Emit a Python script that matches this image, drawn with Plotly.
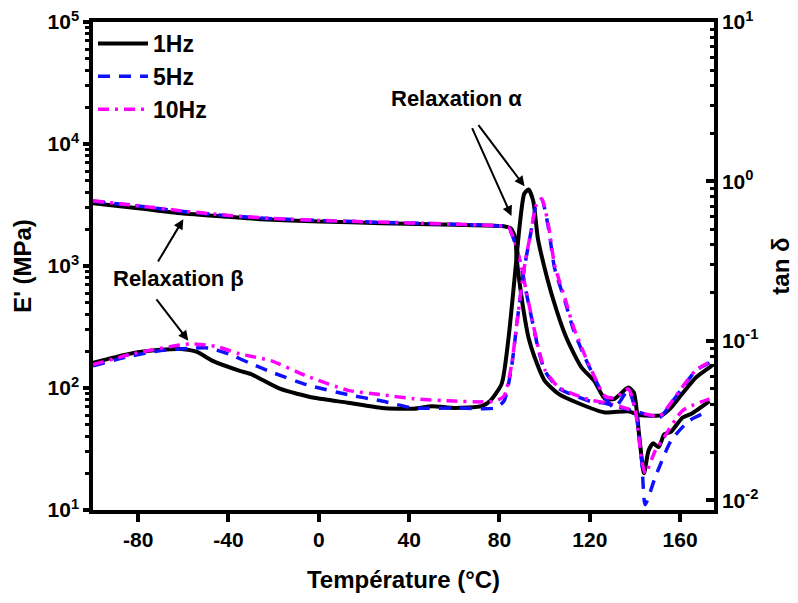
import plotly.graph_objects as go

# storage modulus E' (MPa), left axis
t_e1 = [-100, -80, -61, -40, -26, 0, 28, 60, 81, 85, 87, 87.6, 89, 90.7, 92.9, 95.6, 100, 106, 115, 126.7, 137, 142, 152, 156, 161, 167, 174]
e_1hz = [3270, 2980, 2710, 2530, 2420, 2320, 2245, 2180, 2124, 2040, 1695, 1162, 708, 427, 257, 178, 115, 90, 75, 63, 64.5, 60, 60, 69, 90, 122, 152]

t_e5 = [-100, -80, -60, -40, -20, 0, 40, 80, 84, 86.7, 89.8, 92, 94.2, 97.3, 100, 106, 115, 121, 126.7, 134, 142, 151, 156, 161, 167, 173]
e_5hz = [3400, 3100, 2800, 2580, 2440, 2360, 2250, 2130, 2060, 1580, 955, 588, 377, 204, 139, 100, 84, 77, 75, 69, 63, 57.5, 75, 100, 139, 161]

t_e10 = [-100, -80, -60, -40, -20, 0, 40, 80, 84, 86.7, 89.8, 92, 94.2, 97.3, 100, 106, 115, 121, 126.7, 134, 142, 151, 156, 161, 167, 173]
e_10hz = [3420, 3120, 2820, 2600, 2450, 2365, 2255, 2135, 2070, 1600, 970, 600, 385, 210, 142, 102, 86, 79, 76, 70, 63, 59, 76, 102, 140, 163]

# loss factor tan delta, right axis
t_d1 = [-100, -84, -70, -61, -54, -47, -35, -30, -26, -17, -2, 13, 28, 42, 50, 60, 72, 76, 81, 84, 86.7, 89, 91, 92.9, 95, 97, 100, 104, 109, 113, 116.4, 122, 126.7, 131, 137, 139.5, 141.8, 144, 146, 148, 150.5, 153, 156, 161, 165, 173]
d_1hz = [0.0729, 0.083, 0.088, 0.089, 0.0853, 0.075, 0.065, 0.062, 0.058, 0.050, 0.044, 0.041, 0.038, 0.0376, 0.039, 0.038, 0.039, 0.0422, 0.054, 0.104, 0.248, 0.538, 0.84, 0.89, 0.75, 0.44, 0.286, 0.178, 0.11, 0.083, 0.068, 0.056, 0.0434, 0.0434, 0.051, 0.0475, 0.026, 0.0148, 0.0205, 0.0228, 0.0216, 0.026, 0.027, 0.033, 0.035, 0.042]

t_d5 = [-100, -84, -70, -57, -49, -40, -30, -20, -5, 13, 28, 42, 60, 78, 82, 85.3, 88, 91, 94, 96.4, 98.7, 101.7, 104.4, 109, 113, 118, 122, 126.7, 131, 137, 140, 143, 144.5, 149, 156, 164, 173]
d_5hz = [0.0698, 0.08, 0.087, 0.09, 0.0904, 0.083, 0.072, 0.063, 0.053, 0.046, 0.042, 0.038, 0.038, 0.038, 0.042, 0.068, 0.139, 0.286, 0.487, 0.72, 0.77, 0.51, 0.286, 0.178, 0.115, 0.078, 0.059, 0.044, 0.038, 0.049, 0.038, 0.0178, 0.0094, 0.014, 0.0237, 0.0316, 0.0365]

t_d10 = [-100, -84, -70, -57, -45, -35, -21, -5, 13, 28, 42, 60, 72, 78, 82, 85.3, 88, 91, 94, 96.4, 98.7, 101.7, 104.4, 109, 113, 118, 122, 126.7, 131, 137, 140, 143, 144.6, 149, 153, 161, 173]
d_10hz = [0.071, 0.082, 0.09, 0.0958, 0.092, 0.083, 0.075, 0.06, 0.049, 0.046, 0.0434, 0.042, 0.0415, 0.042, 0.045, 0.07, 0.14, 0.29, 0.49, 0.72, 0.78, 0.53, 0.3, 0.185, 0.12, 0.08, 0.06, 0.045, 0.044, 0.05, 0.038, 0.0178, 0.0148, 0.0205, 0.025, 0.0365, 0.0434]

x_ticks = [-80, -40, 0, 40, 80, 120, 160]
x_text = ['-80', '-40', '0', '40', '80', '120', '160']
left_ticks = [10, 100, 1000, 10000, 100000]
left_text = ['10<sup>1</sup>', '10<sup>2</sup>', '10<sup>3</sup>', '10<sup>4</sup>', '10<sup>5</sup>']
right_ticks = [0.01, 0.1, 1, 10]
right_text = ['10<sup>-2</sup>', '10<sup>-1</sup>', '10<sup>0</sup>', '10<sup>1</sup>']

FONT = 'Liberation Sans, Arial, sans-serif'


def minor_vals(lo, hi):
    vals = []
    for p in range(lo, hi):
        for k in range(2, 10):
            vals.append(k * 10 ** p)
    return vals


styles = {
    '1Hz': dict(color='black', width=4, dash='solid'),
    '5Hz': dict(color='#1010ff', width=3.5, dash='12px,9px'),
    '10Hz': dict(color='#ff00ff', width=3.5, dash='11px,6px,3px,6px'),
}

fig = go.Figure()
for name, tx, ty in [('1Hz', t_e1, e_1hz), ('5Hz', t_e5, e_5hz), ('10Hz', t_e10, e_10hz)]:
    fig.add_scatter(x=tx, y=ty, mode='lines', line=dict(shape='spline', smoothing=0.6, **styles[name]),
                    name=name, legendgroup=name, showlegend=True)
for name, tx, ty in [('1Hz', t_d1, d_1hz), ('5Hz', t_d5, d_5hz), ('10Hz', t_d10, d_10hz)]:
    fig.add_scatter(x=tx, y=ty, mode='lines', line=dict(shape='spline', smoothing=0.6, **styles[name]),
                    name=name, legendgroup=name, showlegend=False, yaxis='y2')

axis_common = dict(showline=True, linecolor='black', linewidth=3.5, showgrid=False, zeroline=False,
                   tickcolor='black', tickwidth=3.5, automargin=False, ticklabeloverflow='allow',
                   tickfont=dict(family=FONT, size=21, color='black', weight='bold'))
title_font = dict(family=FONT, size=24, color='black', weight='bold')

# the page body has an 8px margin, so the figure is 8px smaller than the window
fig.update_layout(
    width=790, height=595,
    margin=dict(l=85, r=84, t=14, b=93),
    paper_bgcolor='white', plot_bgcolor='white',
    font=dict(family=FONT, color='black', weight='bold'),
    xaxis=dict(range=[-100, 175], tickvals=x_ticks, ticktext=x_text, ticks='outside', ticklen=8, mirror=True,
               title=dict(text='Température (°C)', font=title_font, standoff=22),
               **axis_common),
    yaxis=dict(type='log', range=[1, 5], tickvals=left_ticks, ticktext=left_text, ticks='outside', ticklen=6,
               minor=dict(tickvals=minor_vals(1, 5), ticks='outside', ticklen=4, tickwidth=2.5, tickcolor='black'),
               title=dict(text="E' (MPa)", font=title_font, standoff=10),
               **axis_common),
    yaxis2=dict(type='log', range=[-2.06, 1], overlaying='y', side='right', tickvals=right_ticks,
                ticktext=right_text, ticks='inside', ticklen=8,
                minor=dict(tickvals=minor_vals(-2, 1), ticks='inside', ticklen=4, tickwidth=2.5, tickcolor='black'),
                title=dict(text='tan δ', font=title_font, standoff=16),
                **axis_common),
    legend=dict(x=0.0, y=1.0, xanchor='left', yanchor='top', bgcolor='rgba(0,0,0,0)',
                font=dict(family=FONT, size=23, weight='bold'), tracegroupgap=0, itemwidth=50),
)

arrow = dict(showarrow=True, arrowhead=2, arrowsize=1, arrowwidth=2, arrowcolor='black',
             xref='x', yref='y', axref='x', ayref='y', text='')
# alpha relaxation arrows
fig.add_annotation(x=85.3, y=3.41, ax=67.6, ay=4.143, **arrow)
fig.add_annotation(x=91.1, y=3.653, ax=70.2, ay=4.167, **arrow)
# beta relaxation arrows
fig.add_annotation(x=-60, y=3.384, ax=-71.6, ay=3.024, **arrow)
fig.add_annotation(x=-57.8, y=2.388, ax=-72.4, ay=2.739, **arrow)

txt = dict(showarrow=False, xref='x', yref='y', font=dict(family=FONT, size=22, color='black', weight='bold'))
fig.add_annotation(x=61, y=4.371, text='Relaxation α', **txt)
fig.add_annotation(x=-62, y=2.894, text='Relaxation β', **txt)

fig.write_html('out.html')
